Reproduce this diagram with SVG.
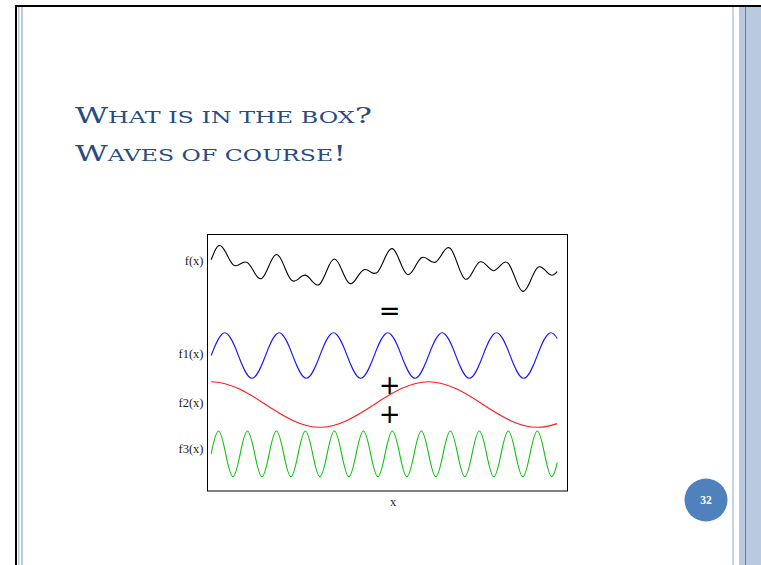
<svg xmlns="http://www.w3.org/2000/svg" width="761" height="565" viewBox="0 0 761 565">
<style>
.lbl{font-family:"Liberation Serif","Times New Roman",serif;font-size:12.5px;fill:#222;text-anchor:end}
.op{font-family:"DejaVu Sans",sans-serif;font-size:26px;fill:#000;text-anchor:middle}
.title{font-family:"DejaVu Serif","Liberation Serif",serif;fill:#284c82}
.wave{fill:none;stroke-width:1.1}
</style>
<rect width="761" height="565" fill="#fff"/>
<g id="frame">
<rect x="15" y="5" width="746" height="2" fill="#000"/>
<rect x="15" y="5" width="2" height="560" fill="#000"/>
<rect x="18" y="7" width="1.5" height="558" fill="#b9c9e0"/>
<rect x="21" y="7" width="2" height="558" fill="#b9c9e0"/>
<rect x="732" y="7" width="2" height="558" fill="#c5d3e8"/>
<rect x="739" y="7" width="22" height="558" fill="#b9c9e0"/>
<rect x="745" y="7" width="1" height="558" fill="#5a7fb8"/>
</g>
<g id="title">
<text class="title" x="75" y="123.3" textLength="297" lengthAdjust="spacingAndGlyphs"><tspan font-size="23">W</tspan><tspan font-size="17">HAT IS IN THE BOX</tspan><tspan font-size="23">?</tspan></text>
<text class="title" x="75" y="160.7" textLength="271" lengthAdjust="spacingAndGlyphs"><tspan font-size="23">W</tspan><tspan font-size="17">AVES OF COURSE</tspan><tspan font-size="23">!</tspan></text>
</g>
<g id="plot">
<rect x="207.5" y="234.5" width="360" height="256.5" fill="none" stroke="#000" stroke-width="1"/>
<g id="labels">
<text class="lbl" x="203.5" y="265">f(x)</text>
<text class="lbl" x="203.5" y="358.2">f1(x)</text>
<text class="lbl" x="203.5" y="406.5">f2(x)</text>
<text class="lbl" x="203.5" y="452.5">f3(x)</text>
<text class="lbl" x="393" y="505.5" style="text-anchor:middle">x</text>
</g>
<g id="operators">
<text class="op" x="389.7" y="320">=</text>
<text class="op" x="389.7" y="394">+</text>
<text class="op" x="389.7" y="423.2">+</text>
</g>
<g id="waves">
<path id="f" class="wave" stroke="#000" d="M211.2 259.7 C213.62 253.2 216.03 247.16 218.45 245.76 C220.87 244.36 223.27 247.64 225.69 252.35 C228.11 257.06 230.52 262.43 232.94 264.59 C235.36 266.75 237.77 265.67 240.19 264.06 C242.61 262.45 245.01 261.04 247.43 262.66 C249.85 264.28 252.26 268.92 254.68 273 C257.1 277.08 259.51 279.85 261.93 278.35 C264.35 276.85 266.75 271.1 269.17 265.35 C271.59 259.61 274 254.66 276.42 254.5 C278.84 254.34 281.25 258.98 283.67 264.84 C286.09 270.7 288.49 277.01 290.91 279.64 C293.33 282.27 295.74 281.19 298.16 279.11 C300.58 277.03 302.99 274.68 305.41 275.15 C307.83 275.62 310.23 278.9 312.65 281.74 C315.07 284.59 317.48 286.26 319.9 284 C322.32 281.74 324.73 275.57 327.15 269.7 C329.57 263.83 331.97 259.03 334.39 259.04 C336.81 259.05 339.22 263.85 341.64 269.59 C344.06 275.33 346.47 281.21 348.89 283 C351.31 284.79 353.71 282.46 356.13 278.86 C358.55 275.26 360.96 271.15 363.38 269.91 C365.8 268.67 368.21 270.33 370.63 271.94 C373.05 273.55 375.45 274.39 377.87 271.76 C380.29 269.13 382.7 263.07 385.12 257.59 C387.54 252.11 389.95 248 392.37 248.64 C394.79 249.28 397.19 254.67 399.61 260.7 C402.03 266.73 404.44 272.61 406.86 274.11 C409.28 275.61 411.68 272.7 414.1 268.46 C416.52 264.23 418.93 259.43 421.35 257.8 C423.77 256.17 426.18 257.72 428.6 259.7 C431.02 261.68 433.42 263.36 435.84 261.96 C438.26 260.56 440.67 256.13 443.09 252.35 C445.51 248.58 447.92 246.23 450.34 248.39 C452.76 250.55 455.16 257.19 457.58 264.06 C460 270.93 462.41 277.24 464.83 278.86 C467.25 280.48 469.66 277.4 472.08 273 C474.5 268.6 476.9 263.65 479.32 262.15 C481.74 260.65 484.15 262.61 486.57 265.35 C488.99 268.09 491.4 270.86 493.82 270.7 C496.24 270.54 498.64 267.46 501.06 264.84 C503.48 262.22 505.89 260.81 508.31 263.44 C510.73 266.07 513.14 272.71 515.56 279.11 C517.98 285.51 520.38 290.88 522.8 291.35 C525.22 291.82 527.63 287.38 530.05 281.74 C532.47 276.1 534.88 270.06 537.3 267.8 C539.72 265.54 542.12 267.09 544.54 269.7 C546.96 272.31 549.37 275.23 551.79 275.24 C553.59 275.24 555.4 273.72 557.2 271.7"/>
<path id="f1" class="wave" stroke="#1a1aff" d="M211.2 355.5 c4.529 -11.94 9.058 -22.8 13.587 -22.8 s9.058 10.86 13.587 22.8 s9.058 22.8 13.587 22.8 s9.058 -10.86 13.587 -22.8 s9.058 -22.8 13.587 -22.8 s9.058 10.86 13.587 22.8 s9.058 22.8 13.587 22.8 s9.058 -10.86 13.587 -22.8 s9.058 -22.8 13.587 -22.8 s9.058 10.86 13.587 22.8 s9.058 22.8 13.587 22.8 s9.058 -10.86 13.587 -22.8 s9.058 -22.8 13.587 -22.8 s9.058 10.86 13.587 22.8 s9.058 22.8 13.587 22.8 s9.058 -10.86 13.587 -22.8 s9.058 -22.8 13.587 -22.8 s9.058 10.86 13.587 22.8 s9.058 22.8 13.587 22.8 s9.058 -10.86 13.587 -22.8 s9.058 -22.8 13.587 -22.8 s9.058 10.86 13.587 22.8 s9.058 22.8 13.587 22.8 s9.058 -10.86 13.587 -22.8 s9.058 -22.8 13.587 -22.8 c2.105 0 4.21 2.11 6.315 5.81"/>
<path id="f2" class="wave" stroke="#ff1a1a" d="M211.2 381.7 c18.117 0 36.233 10.86 54.35 22.8 s36.233 22.8 54.35 22.8 s36.233 -10.86 54.35 -22.8 s36.233 -22.8 54.35 -22.8 s36.233 10.86 54.35 22.8 s36.233 22.8 54.35 22.8 c6.633 0 13.267 -1.29 19.9 -3.67"/>
<path id="f3" class="wave" stroke="#10c010" d="M211.2 453.8 c2.4155 -11.94 4.831 -22.8 7.2466 -22.8 s4.831 10.86 7.2466 22.8 s4.831 22.8 7.2466 22.8 s4.831 -10.86 7.2466 -22.8 s4.831 -22.8 7.2466 -22.8 s4.831 10.86 7.2466 22.8 s4.831 22.8 7.2466 22.8 s4.831 -10.86 7.2466 -22.8 s4.831 -22.8 7.2466 -22.8 s4.831 10.86 7.2466 22.8 s4.831 22.8 7.2466 22.8 s4.831 -10.86 7.2466 -22.8 s4.831 -22.8 7.2466 -22.8 s4.831 10.86 7.2466 22.8 s4.831 22.8 7.2466 22.8 s4.831 -10.86 7.2466 -22.8 s4.831 -22.8 7.2466 -22.8 s4.831 10.86 7.2466 22.8 s4.831 22.8 7.2466 22.8 s4.831 -10.86 7.2466 -22.8 s4.831 -22.8 7.2466 -22.8 s4.831 10.86 7.2466 22.8 s4.831 22.8 7.2466 22.8 s4.831 -10.86 7.2466 -22.8 s4.831 -22.8 7.2466 -22.8 s4.831 10.86 7.2466 22.8 s4.831 22.8 7.2466 22.8 s4.831 -10.86 7.2466 -22.8 s4.831 -22.8 7.2466 -22.8 s4.831 10.86 7.2466 22.8 s4.831 22.8 7.2466 22.8 s4.831 -10.86 7.2466 -22.8 s4.831 -22.8 7.2466 -22.8 s4.831 10.86 7.2466 22.8 s4.831 22.8 7.2466 22.8 s4.831 -10.86 7.2466 -22.8 s4.831 -22.8 7.2466 -22.8 s4.831 10.86 7.2466 22.8 s4.831 22.8 7.2466 22.8 s4.831 -10.86 7.2466 -22.8 s4.831 -22.8 7.2466 -22.8 s4.831 10.86 7.2466 22.8 s4.831 22.8 7.2466 22.8 s4.831 -10.86 7.2466 -22.8 s4.831 -22.8 7.2466 -22.8 s4.831 10.86 7.2466 22.8 s4.831 22.8 7.2466 22.8 c1.803 0 3.606 -5.75 5.409 -13.96"/>
</g>
</g>
<g id="page-number">
<circle cx="706" cy="500" r="21.5" fill="#4f81bd"/>
<text x="706" y="504" font-family="Liberation Serif,serif" font-size="11.5" font-weight="bold" fill="#fff" text-anchor="middle">32</text>
</g>
</svg>
